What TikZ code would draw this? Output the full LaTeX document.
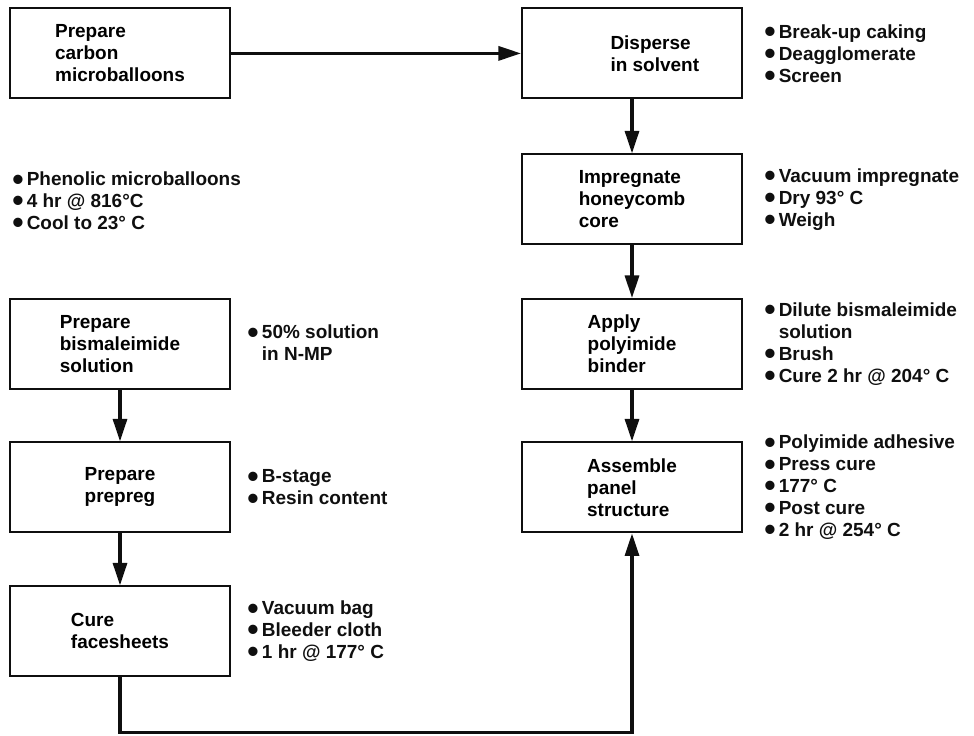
\documentclass[tikz,border=0pt]{standalone}
\usepackage{fontspec}
\setmainfont{Liberation Sans}
\usepackage{tikz}
\usetikzlibrary{arrows.meta, positioning, calc}
\definecolor{myink}{RGB}{15,15,15}
\newcommand{\blt}{\smash{\raisebox{-3pt}{\fontsize{23}{15.6}\selectfont\textbullet}}\,}
\tikzset{
  stepbox/.style={rectangle, draw=myink, line width=1.5pt,
    minimum width=5.5cm, minimum height=2.25cm, inner sep=0pt,
    align=left, font=\fontsize{13.5}{15.6}\selectfont\bfseries},
  notes/.style={anchor=west, align=left, inner sep=0pt,
    font=\fontsize{13.5}{15.6}\selectfont\bfseries, text=myink},
  arrow/.style={-{Triangle[length=16pt, width=10pt]}, line width=2.2pt, color=myink}
}

\begin{document}
\begin{tikzpicture}
\useasboundingbox (0,0) rectangle (24.35,18.375);

%--- LEFT column ---
\node[stepbox] (carbon) at (3.0, 17.04) {Prepare\\carbon\\microballoons};
\node[notes] (phenol) at (0.3, 13.35) {\blt Phenolic microballoons\\\blt 4 hr @ 816°C\\\blt Cool to 23° C};
\node[stepbox] (bisma) at (3.0, 9.775) {Prepare\\bismaleimide\\solution};
\node[stepbox, align=center] (prepreg) at (3.0, 6.19) {Prepare\\prepreg};
\node[stepbox] (cure) at (3.0, 2.59) {Cure\\facesheets};

% notes beside the left boxes
\node[notes] (nbisma) at (6.18, 9.8) {\blt 50\% solution\\\phantom{\blt}in N-MP};
\node[notes] (nprepreg) at (6.18, 6.19) {\blt B-stage\\\blt Resin content};
\node[notes] (ncure) at (6.18, 2.59) {\blt Vacuum bag\\\blt Bleeder cloth\\\blt 1 hr @ 177° C};

%--- RIGHT column ---
\node[stepbox] (disperse) at (15.8, 17.04) {\hspace*{1.14cm}Disperse\\\hspace*{1.14cm}in solvent};
\node[stepbox] (impreg) at (15.8, 13.39) {Impregnate\\honeycomb\\core};
\node[stepbox] (binder) at (15.8, 9.775) {Apply\\polyimide\\binder};
\node[stepbox] (assemble) at (15.8, 6.19) {Assemble\\panel\\structure};

% notes beside the right boxes
\node[notes] (ndisperse) at (19.1, 17.04) {\blt Break-up caking\\\blt Deagglomerate\\\blt Screen};
\node[notes] (nimpreg) at (19.1, 13.39) {\blt Vacuum impregnate\\\blt Dry 93° C\\\blt Weigh};
\node[notes] (nbinder) at (19.1, 9.775) {\blt Dilute bismaleimide\\\phantom{\blt}solution\\\blt Brush\\\blt Cure 2 hr @ 204° C};
\node[notes] (nassemble) at (19.1, 6.19) {\blt Polyimide adhesive\\\blt Press cure\\\blt 177° C\\\blt Post cure\\\blt 2 hr @ 254° C};

%--- flow ---
\draw[arrow] (carbon) -- (disperse);
\draw[arrow] (disperse) -- (impreg);
\draw[arrow] (impreg) -- (binder);
\draw[arrow] (binder) -- (assemble);
\draw[arrow] (bisma) -- (prepreg);
\draw[arrow] (prepreg) -- (cure);
\coordinate (base) at (9.0, 0.06);
\draw[arrow] (cure.south) -- (cure.south |- base) -| (assemble.south);
\end{tikzpicture}
\end{document}
